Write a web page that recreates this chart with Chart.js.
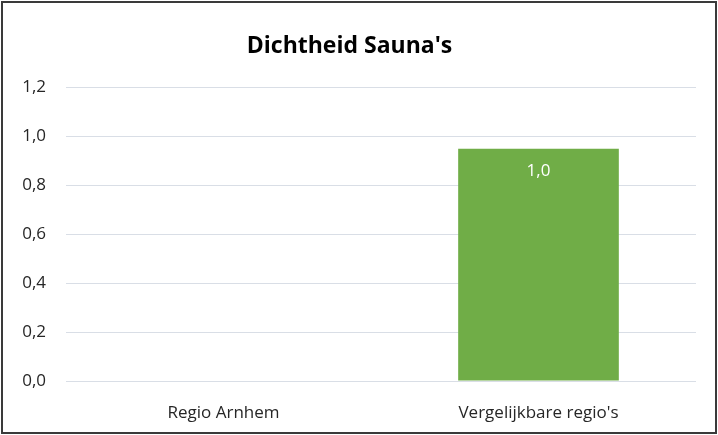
<!DOCTYPE html>
<html>
<head>
<meta charset="utf-8">
<script src="https://cdn.jsdelivr.net/npm/chart.js@4"></script>
<style>
  html, body { margin: 0; padding: 0; background: #fff; }
  #box {
    position: absolute; left: 1px; top: 1px;
    width: 716px; height: 433px;
    box-sizing: border-box;
    border: 2px solid #3a3a3a;
    background: #fff;
  }
  #box canvas { display: block; }
</style>
</head>
<body>
<div id="box"><canvas id="saunaChart" width="712" height="429"></canvas></div>
<script>
// Dichtheid sauna's per regio
const regios = ['Regio Arnhem', "Vergelijkbare regio's"];
const dichtheid = [0, 0.95];
const yTicks = [0, 0.2, 0.4, 0.6, 0.8, 1.0, 1.2];

const fmt = v => (Math.round(v * 10) / 10).toFixed(1).replace('.', ',');
const fontFam = "'Open Sans', sans-serif";

// waarde in witte tekst bovenin de staaf
const barLabels = {
    id: 'barLabels',
    afterDatasetsDraw(chart) {
        let ctx = chart.ctx;
        let meta = chart.getDatasetMeta(0);
        ctx.save();
        ctx.font = '17px ' + fontFam;
        ctx.fillStyle = '#ffffff';
        ctx.textAlign = 'center';
        ctx.textBaseline = 'middle';
        meta.data.forEach((bar, i) => {
            let v = dichtheid[i];
            if (!v) return;
            ctx.fillText(fmt(v), bar.x, bar.y + 22);
        });
        ctx.restore();
    }
};

new Chart(document.getElementById('saunaChart').getContext('2d'), {
    type: 'bar',
    data: {
        labels: regios,
        datasets: [{
            data: dichtheid,
            backgroundColor: '#70ad47',
            borderWidth: 0,
            categoryPercentage: 1.0,
            barPercentage: 0.51
        }]
    },
    options: {
        responsive: false,
        animation: false,
        layout: { padding: { top: 0, right: 19, bottom: 0, left: 0 } },
        plugins: {
            legend: { display: false },
            tooltip: { enabled: false },
            title: {
                display: true,
                text: "Dichtheid Sauna's",
                color: '#000000',
                font: { family: fontFam, size: 23, weight: 'bold' },
                padding: { top: 30, bottom: 27 }
            }
        },
        scales: {
            x: {
                afterFit(axis) { axis.height = 51; },
                grid: { display: false, drawTicks: false },
                border: { display: false },
                ticks: {
                    color: '#262626',
                    font: { family: fontFam, size: 17 },
                    padding: 22
                }
            },
            y: {
                min: 0,
                max: 1.2,
                afterFit(axis) { axis.width = 63; },
                afterBuildTicks(axis) { axis.ticks = yTicks.map(v => ({ value: v })); },
                grid: { color: '#d9dee6', lineWidth: 1, drawTicks: false },
                border: { display: false },
                ticks: {
                    color: '#262626',
                    font: { family: fontFam, size: 17 },
                    padding: 20,
                    callback: v => fmt(v)
                }
            }
        }
    },
    plugins: [barLabels]
});
</script>
</body>
</html>
